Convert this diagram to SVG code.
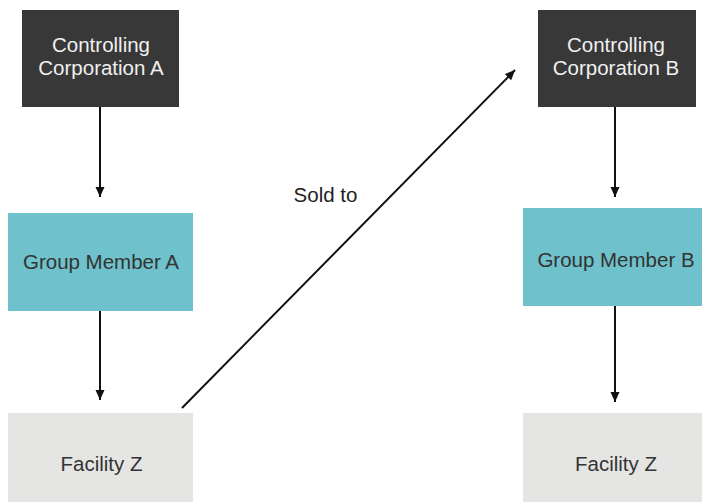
<svg xmlns="http://www.w3.org/2000/svg" width="702" height="502" viewBox="0 0 702 502">
  <style>
    .label { font-family: "Liberation Sans", Arial, sans-serif; font-size: 20.5px; text-anchor: middle; }
    .ctrl rect { fill: #383838; }
    .ctrl text { fill: #f0f0f0; }
    .member rect { fill: #6fc1cb; }
    .member text { fill: #333333; }
    .facility rect { fill: #e5e5e3; }
    .facility text { fill: #333333; }
    .conn { stroke: #111111; stroke-width: 2; fill: none; marker-end: url(#arrow); }
  </style>
  <defs>
    <marker id="arrow" markerUnits="userSpaceOnUse" markerWidth="12" markerHeight="12" refX="10" refY="4.5" orient="auto">
      <path d="M0,0 L10,4.5 L0,9 Z" fill="#111111"/>
    </marker>
  </defs>
  <rect width="702" height="502" fill="#ffffff"/>

  <!-- Left chain -->
  <g id="ctrl-a" class="ctrl">
    <rect x="22" y="10" width="157" height="97"/>
    <text class="label" x="101" y="52">Controlling</text>
    <text class="label" x="101" y="74.5">Corporation A</text>
  </g>
  <g id="member-a" class="member">
    <rect x="8" y="213" width="185" height="98"/>
    <text class="label" x="101" y="268.5">Group Member A</text>
  </g>
  <g id="facility-a" class="facility">
    <rect x="8" y="413" width="185" height="89"/>
    <text class="label" x="101.5" y="471">Facility Z</text>
  </g>

  <!-- Right chain -->
  <g id="ctrl-b" class="ctrl">
    <rect x="538" y="10" width="158" height="97"/>
    <text class="label" x="616" y="52">Controlling</text>
    <text class="label" x="616" y="74.5">Corporation B</text>
  </g>
  <g id="member-b" class="member">
    <rect x="523" y="208" width="185" height="98"/>
    <text class="label" x="616" y="267">Group Member B</text>
  </g>
  <g id="facility-b" class="facility">
    <rect x="523" y="413" width="185" height="89"/>
    <text class="label" x="616" y="471">Facility Z</text>
  </g>

  <!-- Connectors -->
  <g id="connectors">
    <line class="conn" x1="100" y1="107" x2="100" y2="197"/>
    <line class="conn" x1="100" y1="311" x2="100" y2="400"/>
    <line class="conn" x1="615" y1="107" x2="615" y2="197"/>
    <line class="conn" x1="615" y1="306" x2="615" y2="402"/>
    <line class="conn" x1="182" y1="408" x2="515" y2="70"/>
    <text class="label" x="325.5" y="202" fill="#222222">Sold to</text>
  </g>
</svg>
